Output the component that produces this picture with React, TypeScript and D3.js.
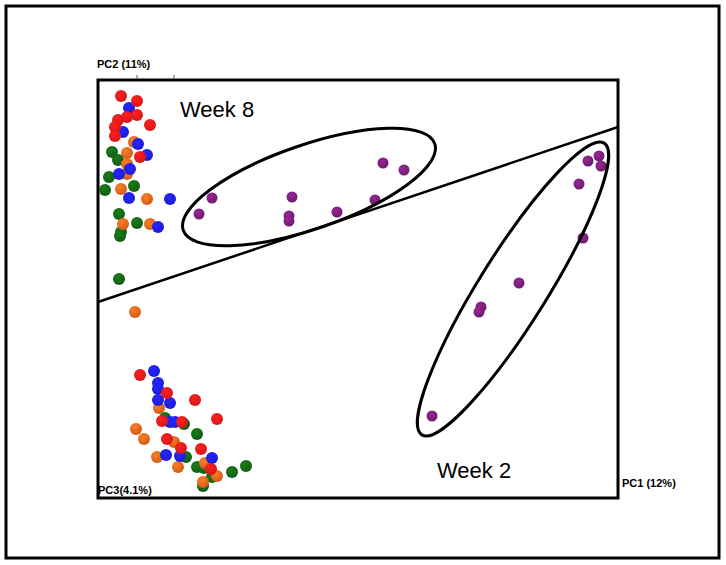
import React, { useEffect, useRef } from 'react';
import * as d3 from 'd3';

// PCA scores in plot units (PC1 across, PC2 up)
const week8: [number, number][] = [
  [114, 300], [101, 284], [194, 301], [191, 282], [191, 277],
  [239, 286], [277, 298], [285, 335], [306, 328],
];
const week2: [number, number][] = [
  [490, 337], [501, 342], [503, 332], [481, 314], [485, 260],
  [421, 215], [383, 191], [381, 186], [334, 82],
];
const redPts: [number, number][] = [
  [23, 402], [39, 397], [39, 383], [29, 381], [20, 378], [52, 373], [17, 371], [17, 362], [42, 341],
  [42, 123], [69, 105], [97, 98], [64, 77], [84, 76], [119, 79], [69, 59], [83, 50], [103, 49], [113, 29],
];
const bluePts: [number, number][] = [
  [31, 390], [25, 366], [40, 354], [49, 343], [32, 329], [21, 324], [31, 300], [72, 299], [60, 271],
  [56, 127], [60, 115], [60, 109], [60, 98], [72, 95], [72, 76], [77, 76], [68, 43], [82, 42], [114, 40],
];
const orangePts: [number, number][] = [
  [36, 356], [29, 345], [29, 334], [29, 324], [23, 309], [49, 299], [25, 274], [52, 274], [37, 186],
  [61, 90], [38, 69], [46, 59], [76, 56], [59, 41], [80, 31], [107, 35], [119, 22], [105, 16],
];
const greenPts: [number, number][] = [
  [14, 346], [20, 338], [11, 321], [36, 312], [7, 308], [21, 284], [39, 275], [23, 266], [22, 262], [21, 219],
  [67, 80], [86, 74], [99, 64], [88, 41], [99, 31], [106, 30], [114, 21], [134, 26], [148, 32], [105, 12],
];

// group ellipses: centre, semi-axes, tilt (degrees)
const groups = [
  { name: 'Week 8', cx: 211, cy: 311, a: 133, b: 42, angle: 19, label: [82, 381] as [number, number] },
  { name: 'Week 2', cx: 415, cy: 209, a: 172, b: 34, angle: 58, label: [339, 20] as [number, number] },
];
const divider: [number, number][] = [[0, 196], [520, 371]];

const series = [
  { id: 'green', color: '#146614', pts: greenPts, r: 6 },
  { id: 'orange', color: '#e8661c', pts: orangePts, r: 6 },
  { id: 'blue', color: '#1f1fee', pts: bluePts, r: 6 },
  { id: 'red', color: '#ee1a1a', pts: redPts, r: 6 },
  { id: 'purple', color: '#7a1f7a', pts: [...week8, ...week2], r: 5.5 },
];

const W = 726;
const H = 565;
const plot = { left: 98, top: 80, right: 618, bottom: 498 };

export default function App() {
  const ref = useRef<SVGSVGElement>(null);

  useEffect(() => {
    const svg = d3.select(ref.current);
    svg.selectAll('*').remove();

    const x = d3.scaleLinear().domain([0, 520]).range([plot.left, plot.right]);
    const y = d3.scaleLinear().domain([0, 418]).range([plot.bottom, plot.top]);

    const defs = svg.append('defs');
    series.forEach((s) => {
      const g = defs
        .append('radialGradient')
        .attr('id', `g-${s.id}`)
        .attr('cx', '40%')
        .attr('cy', '35%')
        .attr('r', '65%');
      g.append('stop').attr('offset', '0%').attr('stop-color', d3.color(s.color)!.brighter(0.6).formatHex());
      g.append('stop').attr('offset', '100%').attr('stop-color', d3.color(s.color)!.darker(0.3).formatHex());
    });

    svg
      .append('rect')
      .attr('x', 6)
      .attr('y', 6)
      .attr('width', 713)
      .attr('height', 552)
      .attr('fill', 'white')
      .attr('stroke', 'black')
      .attr('stroke-width', 3);

    // small tick remnants
    [[137, 75, 137, 78], [174, 75, 174, 78], [180, 491, 180, 497]].forEach(([x1, y1, x2, y2]) => {
      svg.append('line').attr('x1', x1).attr('y1', y1).attr('x2', x2).attr('y2', y2)
        .attr('stroke', '#555').attr('stroke-width', 1);
    });

    svg
      .append('rect')
      .attr('x', x(0))
      .attr('y', y(418))
      .attr('width', x(520) - x(0))
      .attr('height', y(0) - y(418))
      .attr('fill', 'white')
      .attr('stroke', 'black')
      .attr('stroke-width', 3);

    const g = svg.append('g');

    series.forEach((s) => {
      g.selectAll(`.pt-${s.id}`)
        .data(s.pts)
        .enter()
        .append('circle')
        .attr('class', `pt-${s.id}`)
        .attr('cx', (d) => x(d[0]))
        .attr('cy', (d) => y(d[1]))
        .attr('r', s.r)
        .attr('fill', `url(#g-${s.id})`);
    });

    g.append('path')
      .attr('d', d3.line()(divider.map((d) => [x(d[0]), y(d[1])]))!)
      .attr('stroke', 'black')
      .attr('stroke-width', 2.5)
      .attr('fill', 'none');

    groups.forEach((grp) => {
      g.append('ellipse')
        .attr('cx', x(grp.cx))
        .attr('cy', y(grp.cy))
        .attr('rx', x(grp.a) - x(0))
        .attr('ry', y(0) - y(grp.b))
        .attr('transform', `rotate(${-grp.angle} ${x(grp.cx)} ${y(grp.cy)})`)
        .attr('fill', 'none')
        .attr('stroke', 'black')
        .attr('stroke-width', 3);
      svg
        .append('text')
        .attr('x', x(grp.label[0]))
        .attr('y', y(grp.label[1]))
        .attr('font-family', 'Liberation Sans, Arial, sans-serif')
        .attr('font-size', 22)
        .text(grp.name);
    });

    const axisLabels: [string, number, number][] = [
      ['PC2 (11%)', 97, 68],
      ['PC3(4.1%)', 98, 494],
      ['PC1 (12%)', 622, 487],
    ];
    axisLabels.forEach(([t, lx, ly]) => {
      svg
        .append('text')
        .attr('x', lx)
        .attr('y', ly)
        .attr('font-family', 'Liberation Sans, Arial, sans-serif')
        .attr('font-weight', 'bold')
        .attr('font-size', 11)
        .text(t);
    });
  });

  return (
    <svg
      ref={ref}
      width={W}
      height={H}
      viewBox={`0 0 ${W} ${H}`}
      style={{ position: 'absolute', left: 0, top: 0, background: 'white' }}
    />
  );
}
